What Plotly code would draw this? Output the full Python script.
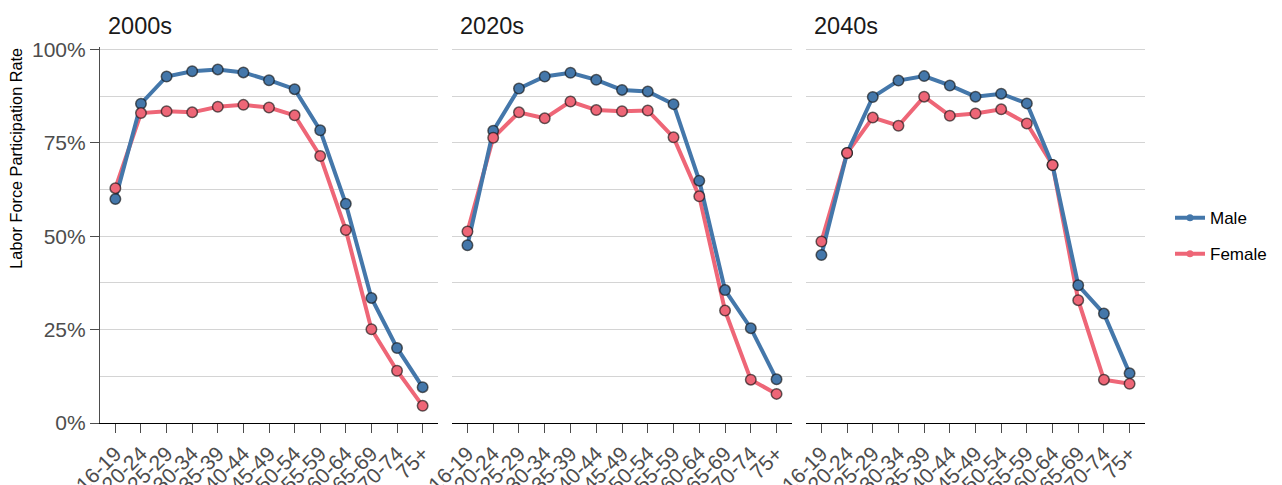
import plotly.graph_objects as go

age_groups = ["16-19", "20-24", "25-29", "30-34", "35-39", "40-44", "45-49",
              "50-54", "55-59", "60-64", "65-69", "70-74", "75+"]
decades = ["2000s", "2020s", "2040s"]

male_2000s = [60.0, 85.5, 92.8, 94.2, 94.7, 93.9, 91.8, 89.4, 78.4, 58.7, 33.5, 20.1, 9.6]
female_2000s = [62.9, 83.0, 83.5, 83.2, 84.7, 85.2, 84.5, 82.4, 71.5, 51.7, 25.1, 14.0, 4.6]
male_2020s = [47.6, 78.3, 89.6, 92.8, 93.8, 91.9, 89.2, 88.8, 85.4, 64.9, 35.6, 25.4, 11.7]
female_2020s = [51.3, 76.4, 83.2, 81.6, 86.1, 83.8, 83.5, 83.7, 76.5, 60.7, 30.1, 11.6, 7.8]
male_2040s = [45.0, 72.3, 87.3, 91.7, 92.9, 90.4, 87.4, 88.2, 85.6, 69.1, 36.9, 29.3, 13.3]
female_2040s = [48.6, 72.3, 81.8, 79.6, 87.4, 82.3, 82.9, 84.0, 80.2, 69.1, 32.9, 11.6, 10.5]

male_series = [male_2000s, male_2020s, male_2040s]
female_series = [female_2000s, female_2020s, female_2040s]

MALE = "#4477AA"
FEMALE = "#EE6677"
FONT = "Liberation Sans, Arial, sans-serif"

# the page body adds an 8px offset; lay out in figure coordinates accordingly
OFF = 8
W, H = 1282 - OFF, 485 - OFF
ML = 100 - OFF
MT = 46.7 - OFF
MR = W - (1145 - OFF)
MB = H - (423 - OFF)
pw = W - ML - MR
ph = H - MT - MB
panels_px = [(100, 438), (452, 792), (806, 1145)]
domains = [[(a - 100) / pw, (b - 100) / pw] for a, b in panels_px]

fig = go.Figure()
mk_line = dict(color="rgba(20,20,20,0.65)", width=1.5)

for i in range(3):
    ax = "" if i == 0 else str(i + 1)
    xa, ya = "x" + ax, "y" + ax
    m = [v / 100 for v in male_series[i]]
    f = [v / 100 for v in female_series[i]]
    fig.add_trace(go.Scatter(x=age_groups, y=f, mode="lines", xaxis=xa, yaxis=ya,
                             line=dict(color=FEMALE, width=4), showlegend=False,
                             hoverinfo="skip"))
    fig.add_trace(go.Scatter(x=age_groups, y=m, mode="lines+markers", xaxis=xa, yaxis=ya,
                             line=dict(color=MALE, width=4),
                             marker=dict(size=10.5, color=MALE, line=mk_line),
                             showlegend=False, name="Male"))
    fig.add_trace(go.Scatter(x=age_groups, y=f, mode="markers", xaxis=xa, yaxis=ya,
                             marker=dict(size=10.5, color=FEMALE, line=mk_line),
                             showlegend=False, name="Female"))

# legend entries
fig.add_trace(go.Scatter(x=[None], y=[None], mode="lines+markers", name="Male",
                         line=dict(color=MALE, width=4), marker=dict(size=7, color=MALE),
                         legend="legend"))
fig.add_trace(go.Scatter(x=[None], y=[None], mode="lines+markers", name="Female",
                         line=dict(color=FEMALE, width=4), marker=dict(size=7, color=FEMALE),
                         legend="legend2"))

layout = dict(
    width=W, height=H,
    margin=dict(l=ML, r=MR, t=MT, b=MB, autoexpand=False),
    plot_bgcolor="white", paper_bgcolor="white",
    font=dict(family=FONT, color="#000000"),
)

for i in range(3):
    ax = "" if i == 0 else str(i + 1)
    layout["xaxis" + ax] = dict(
        domain=domains[i], anchor="y" + ax, type="category",
        categoryorder="array", categoryarray=age_groups,
        tickmode="array", tickvals=age_groups, ticktext=age_groups,
        range=[-0.6, len(age_groups) - 1 + 0.6], automargin=False,
        showline=True, linecolor="#000000", linewidth=1.2,
        ticks="outside", ticklen=9, tickcolor="#4d4d4d", tickwidth=1,
        tickangle=-45, tickfont=dict(size=21, color="#4d4d4d", family=FONT),
        showgrid=False, zeroline=False, fixedrange=True,
    )
    ydict = dict(
        domain=[0, 1], anchor="x" + ax, range=[0, 1.007], automargin=False,
        tickvals=[0, 0.25, 0.5, 0.75, 1.0], tickformat=".0%",
        showgrid=True, gridcolor="#d4d4d4", gridwidth=1,
        minor=dict(tickvals=[0.125, 0.375, 0.625, 0.875], showgrid=True,
                   gridcolor="#d4d4d4", gridwidth=1),
        zeroline=False, fixedrange=True,
    )
    if i == 0:
        ydict.update(showline=True, linecolor="#4d4d4d", linewidth=1.2,
                     ticks="outside", ticklen=9, tickcolor="#4d4d4d",
                     tickfont=dict(size=21, color="#4d4d4d", family=FONT))
    else:
        ydict.update(showline=False, showticklabels=False, ticks="")
    layout["yaxis" + ax] = ydict

lx = (1170 - OFF - ML) / pw
layout["legend"] = dict(x=lx, y=1 - (218 - 46.7) / ph, xanchor="left", yanchor="middle",
                        font=dict(size=17, family=FONT, color="#000000"),
                        bgcolor="rgba(0,0,0,0)")
layout["legend2"] = dict(x=lx, y=1 - (254 - 46.7) / ph, xanchor="left", yanchor="middle",
                         font=dict(size=17, family=FONT, color="#000000"),
                         bgcolor="rgba(0,0,0,0)")

annotations = []
for i, d in enumerate(decades):
    annotations.append(dict(text=d, x=(panels_px[i][0] + 6 - 100) / pw, y=1.0,
                            xref="paper", yref="paper", xanchor="left", yanchor="bottom",
                            yshift=6, showarrow=False,
                            font=dict(size=23.5, family=FONT, color="#1a1a1a")))
annotations.append(dict(text="Labor Force Participation Rate", textangle=-90,
                        x=(16.5 - 100) / pw, y=1 - (158 - 46.7) / ph,
                        xref="paper", yref="paper",
                        xanchor="center", yanchor="middle", showarrow=False,
                        font=dict(size=16.3, family=FONT, color="#000000")))
layout["annotations"] = annotations

fig.update_layout(**layout)
fig.write_html("out.html")
